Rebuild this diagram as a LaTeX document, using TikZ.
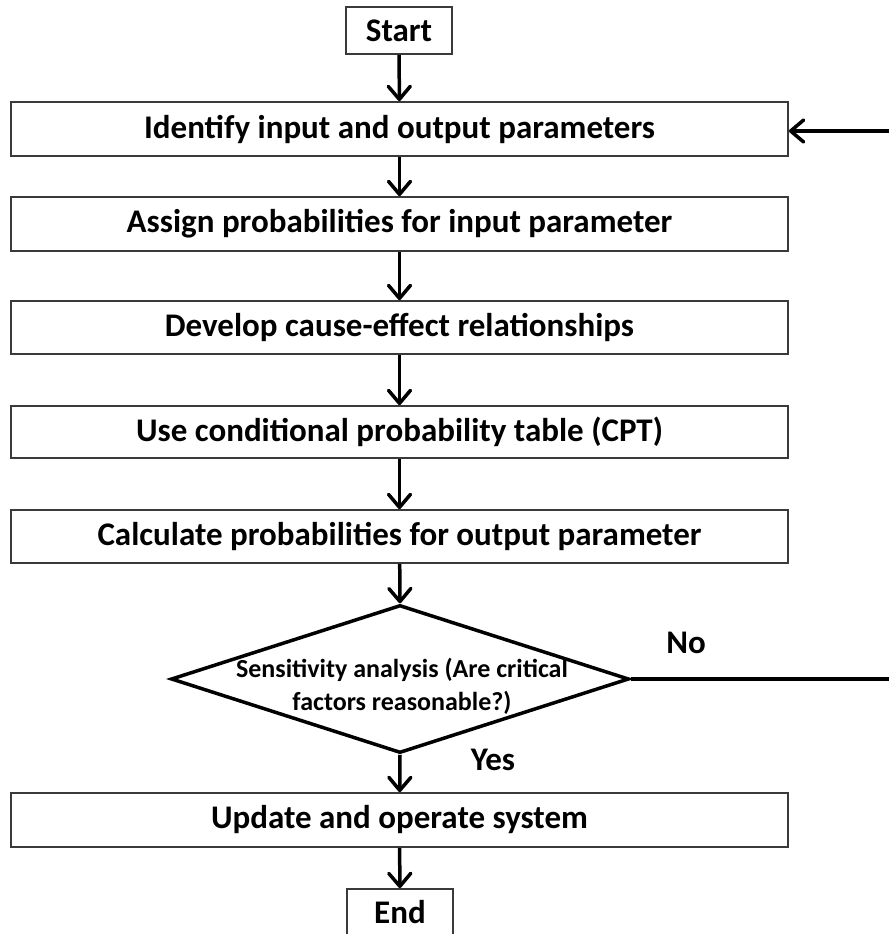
\documentclass[tikz,border=0pt]{standalone}
\usepackage{fontspec}
\setmainfont{Carlito}
\usetikzlibrary{arrows.meta,shapes.geometric}

\definecolor{boxline}{HTML}{3A3A3A}

\begin{document}
\begin{tikzpicture}[x=1pt,y=-1pt,
  bigtext/.style={font=\bfseries\fontsize{33}{37}\selectfont},
  stepbox/.style={draw=boxline, line width=1.8pt, minimum width=777pt,
    inner sep=0pt, bigtext},
  termbox/.style={draw=boxline, line width=1.8pt, minimum width=106pt,
    minimum height=47pt, inner sep=0pt, bigtext},
  decision/.style={diamond, draw=black, line width=3.5pt, minimum width=458pt,
    minimum height=148pt, inner sep=0pt},
  flow/.style={draw=black, line width=3.5pt,
    -{Straight Barb[length=13pt, width=22pt, line width=3.5pt, round]}},
  plain/.style={draw=black, line width=3.5pt},
  lbl/.style={bigtext, inner sep=0pt}]

\useasboundingbox (0,0) rectangle (889,934);

% terminals
\node[termbox] (start) at (399,30.5) {Start};
\node[termbox] (finish) at (400,912.5) {End};

% process steps
\node[stepbox, minimum height=54pt] (s1) at (399.5,129)   {Identify input and output parameters};
\node[stepbox, minimum height=54pt] (s2) at (399.5,224)   {Assign probabilities for input parameter};
\node[stepbox, minimum height=53pt] (s3) at (399.5,327.5) {Develop cause-effect relationships};
\node[stepbox, minimum height=52pt] (s4) at (399.5,432)   {Use conditional probability table (CPT)};
\node[stepbox, minimum height=53pt] (s5) at (399.5,536.5) {Calculate probabilities for output parameter};
\node[stepbox, minimum height=54pt] (s6) at (399.5,820)   {Update and operate system};

% decision
\node[decision] (dec) at (400,679) {};
\node[align=center, inner sep=0pt, font=\bfseries\fontsize{26}{33}\selectfont]
  (dectext) at (402,686) {Sensitivity analysis (Are critical\\factors reasonable?)};

% labels on the outgoing branches
\node[lbl] (no)  at (686,643) {No};
\node[lbl] (yes) at (493,760) {Yes};

% open ends of the feedback loop at the right margin
\coordinate (fbin)  at (889,131);
\coordinate (fbout) at (889,679);

% connectors
\draw[flow] (start) -- (s1);
\draw[flow] (s1) -- (s2);
\draw[flow] (s2) -- (s3);
\draw[flow] (s3) -- (s4);
\draw[flow] (s4) -- (s5);
\draw[flow] (s5) -- (dec.north);
\draw[flow] (dec.south) -- (s6);
\draw[flow] (s6) -- (finish);
\draw[plain] (dec.east) -- (fbout);
\draw[flow] (fbin) -- (s1.east |- fbin);

\end{tikzpicture}
\end{document}
